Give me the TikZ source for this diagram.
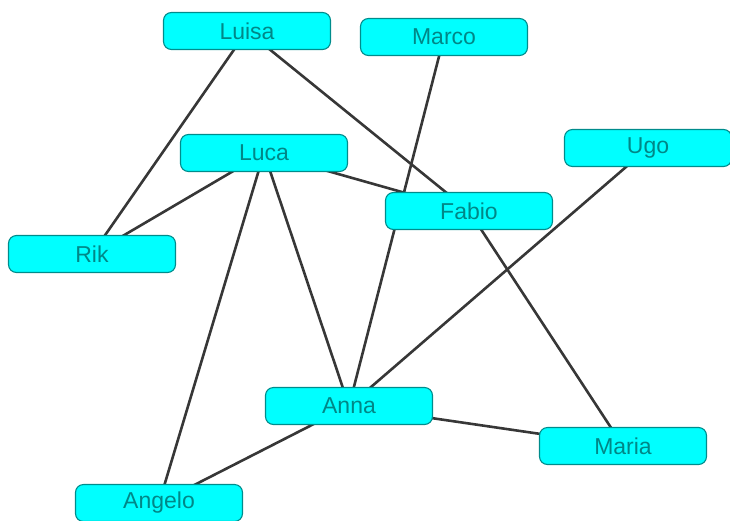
\documentclass[tikz,border=0pt]{standalone}
\usepackage{fontspec}
\setmainfont{Liberation Sans}
\usetikzlibrary{backgrounds}
\definecolor{boxfill}{RGB}{0,255,255}
\definecolor{boxline}{RGB}{0,140,140}
\definecolor{boxtext}{RGB}{0,135,135}
\definecolor{linkgray}{RGB}{55,55,55}
\begin{document}
\begin{tikzpicture}[x=1pt,y=-1pt,
  person/.style={draw=boxline,line width=1.1pt,fill=boxfill,rounded corners=8pt,
    minimum width=167pt,minimum height=37pt,inner sep=0pt,
    text=boxtext,font=\fontsize{23}{23}\selectfont},
  link/.style={draw=linkgray,line width=2.6pt}]
  \useasboundingbox (0,0) rectangle (730,520);
  % people
  \node[person] (luisa)  at (247,31)  {Luisa};
  \node[person] (marco)  at (444,37)  {Marco};
  \node[person] (luca)   at (264,153) {Luca};
  \node[person] (ugo)    at (648,148) {Ugo};
  \node[person] (fabio)  at (469,211) {Fabio};
  \node[person] (rik)    at (92,254)  {Rik};
  \node[person] (anna)   at (349,406) {Anna};
  \node[person] (maria)  at (623,446) {Maria};
  \node[person] (angelo) at (159,503) {Angelo};
  % links, behind the boxes
  \begin{pgfonlayer}{background}
    \draw[link] (luisa.center) -- (rik.center);
    \draw[link] (luisa.center) -- (fabio.center);
    \draw[link] (marco.center) -- (anna.center);
    \draw[link] (luca.center) -- (rik.center);
    \draw[link] (luca.center) -- (fabio.center);
    \draw[link] (luca.center) -- (anna.center);
    \draw[link] (luca.center) -- (angelo.center);
    \draw[link] (ugo.center) -- (anna.center);
    \draw[link] (fabio.center) -- (maria.center);
    \draw[link] (anna.center) -- (maria.center);
    \draw[link] (anna.center) -- (angelo.center);
  \end{pgfonlayer}
\end{tikzpicture}
\end{document}
